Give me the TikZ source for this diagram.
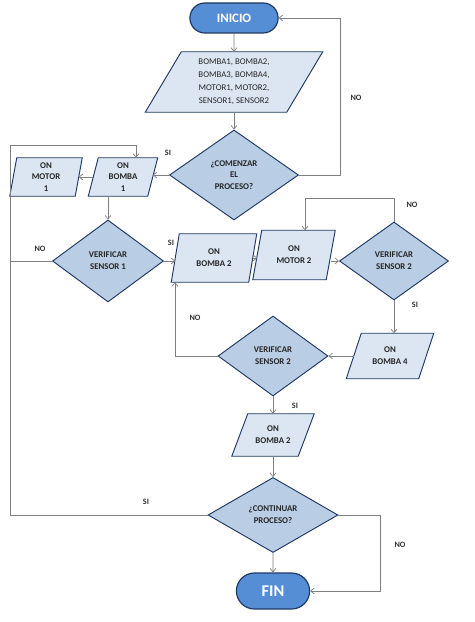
\documentclass[tikz,border=0pt]{standalone}
\usepackage{fontspec}
\setmainfont{Carlito}
\usetikzlibrary{shapes.geometric,shapes.misc,arrows.meta,backgrounds}
\definecolor{azulfin}{HTML}{558ED5}
\definecolor{azulborde}{HTML}{1F3864}
\definecolor{azuldato}{HTML}{DCE6F2}
\definecolor{azuldec}{HTML}{B9CDE5}
\definecolor{gris}{HTML}{7F7F7F}
\tikzset{
  term/.style={draw=azulborde, line width=1pt, fill=azulfin, rounded rectangle, text=white, font=\bfseries\fontsize{11}{13}\selectfont},
  dato/.style={rectangle, inner sep=1pt, align=center, text=black!85, font=\bfseries\fontsize{7.5}{10}\selectfont},
  caja/.style={draw=azulborde, line width=0.8pt, fill=azuldato, line join=miter},
  dec/.style={draw=azulborde, line width=0.8pt, fill=azuldec, diamond, inner sep=0pt, align=center, text=black!85, font=\bfseries\fontsize{7.5}{10}\selectfont},
  linea/.style={draw=gris, line width=0.6pt, -{Straight Barb[length=3pt,width=5pt]}},
  etiq/.style={font=\bfseries\fontsize{7}{8}\selectfont, text=black!80}
}
\begin{document}
\begin{tikzpicture}[x=0.03cm, y=-0.03cm]
\useasboundingbox (0,0) rectangle (474,622);
% Inicio y datos
\node[term, minimum width=2.88cm, minimum height=0.9cm] (ini) at (234,18) {INICIO};
\node[dato, minimum width=4.23cm, minimum height=1.8cm, font=\fontsize{7.5}{11}\selectfont] (datos) at (234,82) {BOMBA1, BOMBA2,\\BOMBA3, BOMBA4,\\MOTOR1, MOTOR2,\\SENSOR1, SENSOR2};
\node[dec, minimum width=3.87cm, minimum height=2.7cm] (dec1) at (234,175) {¿COMENZAR\\EL\\PROCESO?};

% Bomba 1 y motor 1
\node[dato, minimum width=1.77cm, minimum height=1.14cm] (b1) at (123,177) {ON\\BOMBA\\1};
\node[dato, minimum width=1.95cm, minimum height=1.14cm] (m1) at (46,177) {ON\\MOTOR\\1};
\node[dec, minimum width=3.33cm, minimum height=2.46cm] (s1) at (108,261) {VERIFICAR\\SENSOR 1};

% Bomba 2, motor 2 y sensor 2
\node[dato, minimum width=2.31cm, minimum height=1.44cm] (b2) at (214,258) {ON\\BOMBA 2};
\node[dato, minimum width=2.19cm, minimum height=1.47cm] (m2) at (294,255) {ON\\MOTOR 2};
\node[dec, minimum width=3.27cm, minimum height=2.34cm] (s2) at (394,261) {VERIFICAR\\SENSOR 2};
\node[dato, minimum width=2.16cm, minimum height=1.35cm] (b4) at (390,356) {ON\\BOMBA 4};
\node[dec, minimum width=3.3cm, minimum height=2.4cm] (s3) at (273,356) {VERIFICAR\\SENSOR 2};
\node[dato, minimum width=1.98cm, minimum height=1.26cm] (b5) at (273,435) {ON\\BOMBA 2};

% Final
\node[dec, minimum width=3.9cm, minimum height=2.25cm] (cont) at (273,515) {¿CONTINUAR\\PROCESO?};
\node[term, minimum width=2.43cm, minimum height=1.08cm, font=\bfseries\fontsize{14}{16}\selectfont] (fin) at (273,591) {FIN};

% Paralelogramos (inclinacion en px)
\begin{scope}[on background layer]
\foreach \n/\s in {datos/36, b1/10, m1/7, b2/8, m2/9, b4/15, b5/16}
  \filldraw[caja] ([xshift=\s*0.015cm]\n.north west) -- ([xshift=\s*0.015cm]\n.north east)
    -- ([xshift=-\s*0.015cm]\n.south east) -- ([xshift=-\s*0.015cm]\n.south west) -- cycle;
\end{scope}

% Puntos de giro
\coordinate (izq) at (10,145);
\coordinate (entra) at (136,145);
\coordinate (vuelta) at (340,0);
\coordinate (giro) at (305,198);
\coordinate (sube) at (175,0);
\coordinate (der) at (380,0);

% Conexiones
\draw[linea] (ini) -- (datos);
\draw[linea] (datos) -- (dec1);
\draw[linea] (dec1.east) -| (vuelta |- ini.east) -- (ini.east);
\draw[linea] (dec1.west) -- (dec1.west -| b1.east);
\draw[linea] (b1.west) -- (b1.west -| m1.east);
\draw[linea] (b1.south -| s1.north) -- (s1.north);
\draw[linea, -] (s1.west) -- (s1.west -| izq);
\draw[linea] (s1.east) -- (s1.east -| b2.west);
\draw[linea] (b2.east) -- (b2.east -| m2.west);
\draw[linea] (m2.east |- s2.west) -- (s2.west);
\draw[linea] (s2.north) |- (giro) -- (giro |- m2.north);
\draw[linea] (s2.south) -- (s2.south |- b4.north);
\draw[linea] (b4.west) -- (s3.east);
\draw[linea] (s3.west) -| (sube |- b2.south);
\draw[linea] (s3) -- (b5);
\draw[linea] (b5) -- (cont);
\draw[linea] (cont) -- (fin);
\draw[linea] (cont.west) -| (izq) -- (entra) -- (entra |- b1.north);
\draw[linea] (cont.east) -| (der |- fin.east) -- (fin.east);

% Etiquetas
\node[etiq] (noA) at (356,98) {NO};
\node[etiq] (siA) at (168,153) {SI};
\node[etiq] (noB) at (40,249) {NO};
\node[etiq] (siB) at (171,243) {SI};
\node[etiq] (noC) at (412,205) {NO};
\node[etiq] (siC) at (415,305) {SI};
\node[etiq] (noD) at (195,318) {NO};
\node[etiq] (siD) at (295,406) {SI};
\node[etiq] (siE) at (146,502) {SI};
\node[etiq] (noE) at (400,545) {NO};
\end{tikzpicture}
\end{document}
